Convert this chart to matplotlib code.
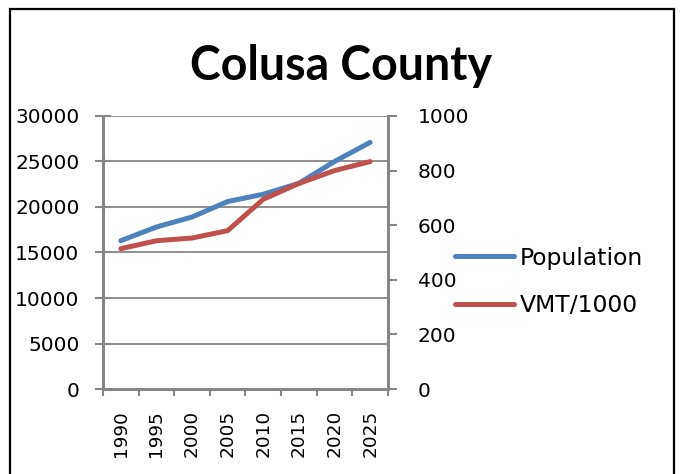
import matplotlib
matplotlib.use("Agg")
import matplotlib.pyplot as plt
from matplotlib.patches import Rectangle

plt.rcParams['font.family'] = ['DejaVu Sans']

years = ['1990', '1995', '2000', '2005', '2010', '2015', '2020', '2025']
population = [16300, 17800, 18900, 20600, 21400, 22600, 25000, 27100]
vmt = [514, 543, 553, 580, 695, 753, 800, 833]

blue = '#4F81BD'
red = '#C0504D'
gray = '#868686'

fig = plt.figure(figsize=(6.83, 4.74), dpi=100)
ax = fig.add_axes([0.1508, 0.1793, 0.4172, 0.576])
ax2 = ax.twinx()

x = list(range(len(years)))
l1, = ax.plot(x, population, color=blue, lw=3.6, solid_capstyle='round', label='Population', zorder=3)
l2, = ax2.plot(x, vmt, color=red, lw=3.6, solid_capstyle='round', label='VMT/1000', zorder=3)

ax.set_xlim(-0.5, len(years) - 0.5)
ax.set_ylim(0, 30000)
ax2.set_ylim(0, 1000)
ax.set_yticks(range(0, 30001, 5000))
ax2.set_yticks(range(0, 1001, 200))

# category boundaries get the tick marks, labels sit in the middle
ax.set_xticks([i - 0.5 for i in range(len(years) + 1)])
ax.set_xticklabels([])
ax.set_xticks(x, minor=True)
ax.set_xticklabels(years, minor=True, rotation=90, fontsize=13.3)
ax.tick_params(axis='x', which='minor', length=0, pad=15)
ax.tick_params(axis='x', which='major', length=5, width=1.5, color=gray, direction='out')

ax.tick_params(axis='y', labelsize=14.5, length=12, width=1.5, color=gray, direction='inout', pad=11)
ax2.tick_params(axis='y', labelsize=14.5, length=6.5, width=1.5, color=gray, direction='out', pad=15)

ax.grid(axis='y', color=gray, lw=1.3)
ax.set_axisbelow(True)
for a in (ax, ax2):
    a.spines['top'].set_visible(False)
    for s in ('left', 'right', 'bottom'):
        a.spines[s].set_color(gray)
        a.spines[s].set_linewidth(2)

fig.text(0.5, 1 - 80 / 474, 'Colusa County', ha='center', va='baseline',
         fontsize=33.5, fontweight='bold', family=['Lato', 'DejaVu Sans'])

fig.legend([l1, l2], ['Population', 'VMT/1000'], loc='center left',
           bbox_to_anchor=(455 / 683, 1 - 282 / 474), frameon=False, fontsize=16.9,
           handlelength=2.5, handletextpad=0.26, labelspacing=1.05, borderpad=0,
           borderaxespad=0)

fig.add_artist(Rectangle((10 / 683, -0.01), 664 / 683, (474 - 9) / 474 + 0.01,
                         transform=fig.transFigure, fill=False, ec='black', lw=1.6))

fig.savefig('out.png', dpi=100)
